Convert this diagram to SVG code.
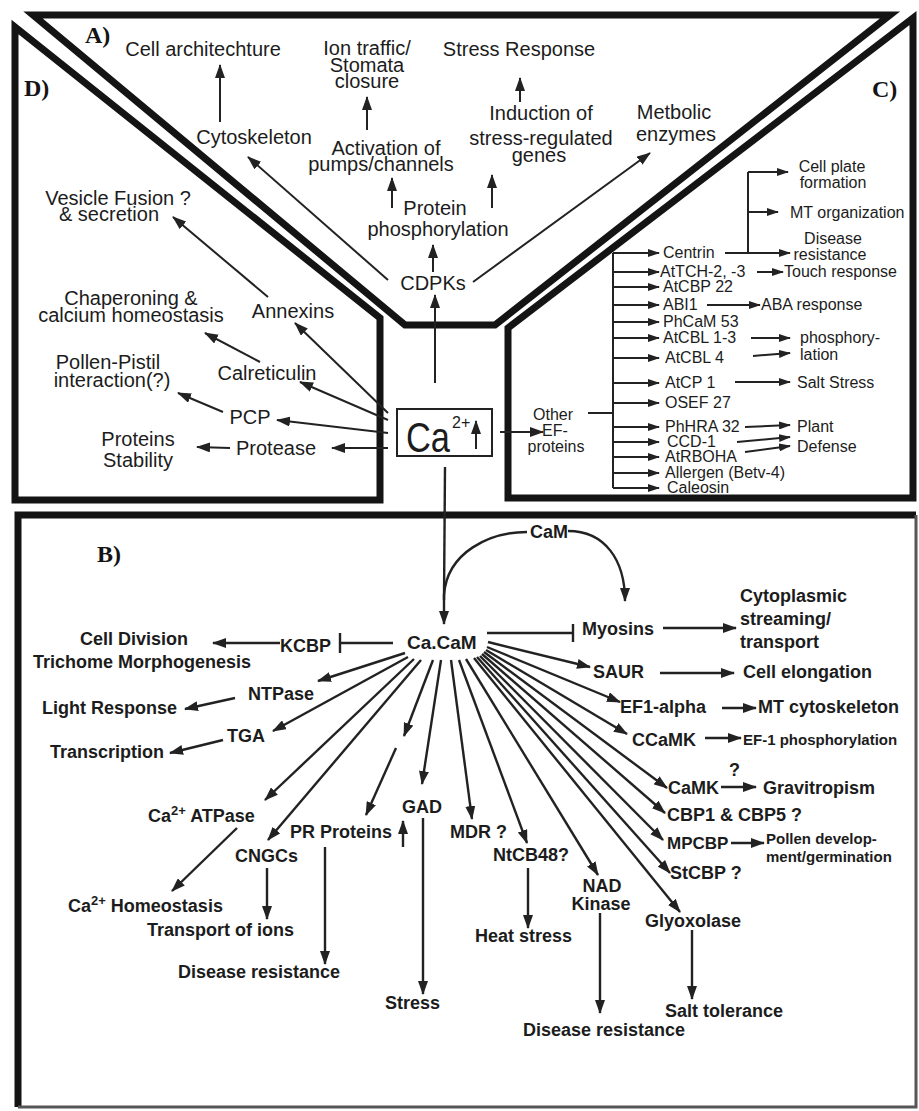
<svg xmlns="http://www.w3.org/2000/svg" width="919" height="1111" viewBox="0 0 919 1111">
<style>
.pan{fill:none;stroke:#141414;stroke-width:7;stroke-linejoin:miter}
.t{font-family:"Liberation Sans",Arial,sans-serif;font-size:20px;fill:#1c1c1c}
.c{font-family:"Liberation Sans",Arial,sans-serif;font-size:16px;fill:#1c1c1c}
.b{font-family:"Liberation Sans",Arial,sans-serif;font-size:18px;font-weight:bold;fill:#1c1c1c}
.bs{font-family:"Liberation Sans",Arial,sans-serif;font-size:15px;font-weight:bold;fill:#1c1c1c}
.lab{font-family:"Liberation Serif","Times New Roman",serif;font-size:24px;font-weight:bold;fill:#141414}
.m{text-anchor:middle}
.ln{fill:none;stroke:#222;stroke-width:2}
.lb{fill:none;stroke:#222;stroke-width:2.4}
.a{marker-end:url(#ah)}
.as{marker-end:url(#ahs)}
</style>
<defs>
<marker id="ah" viewBox="0 0 14 10" refX="13" refY="5" markerWidth="14" markerHeight="10" markerUnits="userSpaceOnUse" orient="auto"><path d="M0,0 L14,5 L0,10 z" fill="#222"/></marker>
<marker id="ahs" viewBox="0 0 12 8" refX="11" refY="4" markerWidth="12" markerHeight="8" markerUnits="userSpaceOnUse" orient="auto"><path d="M0,0 L12,4 L0,8 z" fill="#222"/></marker>
</defs>
<rect width="919" height="1111" fill="#ffffff"/>
<g id="panels">
<polygon class="pan" points="33,15 890,15 495,325 405,325"/>
<polygon class="pan" points="15,27 380,318 380,500 15,500"/>
<polygon class="pan" points="913,18 913,498 508,498 508,328"/>
<path class="pan" d="M18,1107 L18,515 L916,515" stroke-width="6"/>
<path d="M916,515 L916,1107 L18,1107" fill="none" stroke="#555" stroke-width="3"/>
</g>
<g id="panel-labels">
<text class="lab" x="85" y="43">A)</text>
<text class="lab" x="24" y="96">D)</text>
<text class="lab" x="872" y="97">C)</text>
<text class="lab" x="97" y="562">B)</text>
</g>
<g id="connectors">
<!-- panel A -->
<line class="ln a" x1="220" y1="122" x2="220" y2="65"/>
<line class="ln a" x1="367" y1="130" x2="367" y2="97"/>
<line class="ln a" x1="392" y1="208" x2="392" y2="178"/>
<line class="ln a" x1="492" y1="208" x2="492" y2="175"/>
<line class="ln a" x1="520" y1="102" x2="520" y2="78"/>
<line class="ln a" x1="433" y1="272" x2="433" y2="245"/>
<line class="ln a" x1="435" y1="383" x2="435" y2="295"/>
<line class="ln a" x1="388" y1="280" x2="248" y2="157"/>
<line class="ln a" x1="473" y1="282" x2="650" y2="153"/>
<!-- panel D -->
<line class="ln a" x1="268" y1="297" x2="173" y2="217"/>
<line class="ln a" x1="388" y1="413" x2="295" y2="323"/>
<line class="ln a" x1="260" y1="362" x2="205" y2="333"/>
<line class="ln a" x1="388" y1="420" x2="300" y2="382"/>
<line class="ln a" x1="223" y1="412" x2="178" y2="393"/>
<line class="ln a" x1="388" y1="433" x2="277" y2="420"/>
<line class="ln a" x1="230" y1="448" x2="197" y2="447"/>
<line class="ln a" x1="388" y1="448" x2="332" y2="448"/>
<!-- panel C -->
<line class="ln a" x1="500" y1="432" x2="543" y2="432"/>
<line class="ln" x1="588" y1="413" x2="613" y2="413"/>
<line class="ln" x1="613" y1="253" x2="613" y2="488"/>
<line class="ln as" x1="613" y1="253" x2="659" y2="253"/>
<line class="ln as" x1="613" y1="272" x2="659" y2="272"/>
<line class="ln as" x1="613" y1="287" x2="659" y2="287"/>
<line class="ln as" x1="613" y1="305" x2="659" y2="305"/>
<line class="ln as" x1="613" y1="322" x2="659" y2="322"/>
<line class="ln as" x1="613" y1="338" x2="659" y2="338"/>
<line class="ln as" x1="613" y1="358" x2="659" y2="358"/>
<line class="ln as" x1="613" y1="383" x2="659" y2="383"/>
<line class="ln as" x1="613" y1="403" x2="659" y2="403"/>
<line class="ln as" x1="613" y1="427" x2="659" y2="427"/>
<line class="ln as" x1="613" y1="442" x2="659" y2="442"/>
<line class="ln as" x1="613" y1="457" x2="659" y2="457"/>
<line class="ln as" x1="613" y1="473" x2="659" y2="473"/>
<line class="ln as" x1="613" y1="488" x2="659" y2="488"/>
<line class="ln as" x1="725" y1="253" x2="790" y2="253"/>
<line class="ln" x1="748" y1="172" x2="748" y2="253"/>
<line class="ln as" x1="748" y1="172" x2="788" y2="172"/>
<line class="ln as" x1="748" y1="212" x2="778" y2="212"/>
<line class="ln as" x1="757" y1="272" x2="783" y2="272"/>
<line class="ln as" x1="707" y1="305" x2="760" y2="305"/>
<line class="ln as" x1="751" y1="338" x2="790" y2="338"/>
<line class="ln as" x1="753" y1="356" x2="790" y2="353"/>
<line class="ln as" x1="735" y1="382" x2="790" y2="382"/>
<line class="ln as" x1="745" y1="427" x2="790" y2="425"/>
<line class="ln as" x1="737" y1="442" x2="790" y2="437"/>
<line class="ln as" x1="745" y1="452" x2="790" y2="446"/>
<!-- panel B -->
<line class="lb" x1="445" y1="467" x2="444" y2="600"/>
<path class="lb a" d="M527,532 C490,532 447,552 444,595 L444,624"/>
<path class="lb a" d="M568,531 C605,531 625,560 625,601"/>
<line class="lb" x1="487" y1="633" x2="573" y2="633"/>
<line class="lb" x1="573" y1="624" x2="573" y2="642"/>
<line class="lb" x1="393" y1="643" x2="340" y2="643"/>
<line class="lb" x1="340" y1="633" x2="340" y2="653"/>
<line class="lb a" x1="280" y1="643" x2="213" y2="643"/>
<line class="lb a" x1="488" y1="642" x2="590" y2="667"/>
<line class="lb a" x1="487" y1="647" x2="620" y2="702"/>
<line class="lb a" x1="486" y1="650" x2="627" y2="734"/>
<line class="lb a" x1="484" y1="652" x2="667" y2="788"/>
<line class="lb a" x1="482" y1="654" x2="665" y2="813"/>
<line class="lb a" x1="480" y1="656" x2="663" y2="840"/>
<line class="lb a" x1="477" y1="657" x2="670" y2="873"/>
<line class="lb a" x1="474" y1="658" x2="680" y2="912"/>
<line class="lb a" x1="466" y1="659" x2="598" y2="875"/>
<line class="lb a" x1="459" y1="660" x2="527" y2="843"/>
<line class="lb a" x1="451" y1="660" x2="472" y2="819"/>
<line class="lb a" x1="441" y1="660" x2="422" y2="784"/>
<line class="lb a" x1="433" y1="660" x2="404" y2="736"/>
<line class="lb a" x1="396" y1="748" x2="366" y2="815"/>
<line class="lb a" x1="421" y1="660" x2="268" y2="840"/>
<line class="lb a" x1="414" y1="659" x2="265" y2="800"/>
<line class="lb a" x1="408" y1="657" x2="273" y2="731"/>
<line class="lb a" x1="405" y1="653" x2="318" y2="681"/>
<line class="lb a" x1="235" y1="698" x2="185" y2="709"/>
<line class="lb a" x1="223" y1="740" x2="170" y2="753"/>
<line class="lb a" x1="237" y1="828" x2="172" y2="891"/>
<line class="lb a" x1="267" y1="868" x2="267" y2="919"/>
<line class="lb a" x1="325" y1="847" x2="325" y2="964"/>
<line class="lb a" x1="403" y1="847" x2="403" y2="821"/>
<line class="lb a" x1="423" y1="818" x2="423" y2="994"/>
<line class="lb a" x1="528" y1="868" x2="528" y2="928"/>
<line class="lb a" x1="600" y1="913" x2="600" y2="1013"/>
<line class="lb a" x1="692" y1="930" x2="692" y2="999"/>
<line class="lb a" x1="663" y1="628" x2="736" y2="628"/>
<line class="lb a" x1="660" y1="673" x2="734" y2="673"/>
<line class="lb a" x1="722" y1="708" x2="756" y2="708"/>
<line class="lb a" x1="705" y1="738" x2="741" y2="738"/>
<line class="lb a" x1="721" y1="787" x2="756" y2="787"/>
<line class="lb a" x1="731" y1="843" x2="764" y2="843"/>
</g>
<g id="ca-box">
<rect x="397" y="409" width="95" height="47" fill="#fff" stroke="#222" stroke-width="2"/>
<text class="t" x="406" y="452" textLength="44" lengthAdjust="spacingAndGlyphs" style="font-size:42px">Ca</text>
<text class="t" x="452" y="428" style="font-size:16px">2+</text>
<line class="ln a" x1="476" y1="449" x2="476" y2="421"/>
</g>
<!-- Panel A nodes -->
<g id="cell-architecture"><text class="t m" x="203" y="56">Cell architechture</text></g>
<g id="ion-traffic"><text class="t m" x="367" y="55">Ion traffic/</text><text class="t m" x="367" y="72">Stomata</text><text class="t m" x="367" y="88">closure</text></g>
<g id="stress-response"><text class="t m" x="519" y="56">Stress Response</text></g>
<g id="cytoskeleton"><text class="t m" x="254" y="144">Cytoskeleton</text></g>
<g id="activation"><text class="t m" x="386" y="155">Activation of</text><text class="t m" x="381" y="171">pumps/channels</text></g>
<g id="induction"><text class="t m" x="541" y="120">Induction of</text><text class="t m" x="541" y="145">stress-regulated</text><text class="t m" x="539" y="162">genes</text></g>
<g id="metabolic"><text class="t m" x="674" y="119">Metbolic</text><text class="t m" x="676" y="141">enzymes</text></g>
<g id="protein-phos"><text class="t m" x="435" y="215">Protein</text><text class="t m" x="438" y="236">phosphorylation</text></g>
<g id="cdpks"><text class="t m" x="433" y="290">CDPKs</text></g>
<!-- Panel D nodes -->
<g id="vesicle"><text class="t m" x="118" y="205">Vesicle Fusion ?</text><text class="t m" x="109" y="221">&amp; secretion</text></g>
<g id="annexins"><text class="t m" x="293" y="318">Annexins</text></g>
<g id="chaperoning"><text class="t m" x="131" y="305">Chaperoning &amp;</text><text class="t m" x="131" y="322">calcium homeostasis</text></g>
<g id="calreticulin"><text class="t m" x="267" y="380">Calreticulin</text></g>
<g id="pollen-pistil"><text class="t m" x="108" y="369">Pollen-Pistil</text><text class="t m" x="112" y="387">interaction(?)</text></g>
<g id="pcp"><text class="t m" x="250" y="424">PCP</text></g>
<g id="proteins-stability"><text class="t m" x="138" y="446">Proteins</text><text class="t m" x="138" y="467">Stability</text></g>
<g id="protease"><text class="t m" x="276" y="455">Protease</text></g>
<!-- Panel C nodes -->
<g id="other-ef"><text class="c m" x="553" y="420">Other</text><text class="c m" x="555" y="436">EF-</text><text class="c m" x="556" y="452">proteins</text></g>
<g id="centrin"><text class="c" x="663" y="258">Centrin</text></g>
<g id="attch"><text class="c" x="660" y="277">AtTCH-2, -3</text></g>
<g id="atcbp22"><text class="c" x="663" y="292">AtCBP 22</text></g>
<g id="abi1"><text class="c" x="663" y="310">ABI1</text></g>
<g id="phcam53"><text class="c" x="663" y="327">PhCaM 53</text></g>
<g id="atcbl13"><text class="c" x="663" y="343">AtCBL 1-3</text></g>
<g id="atcbl4"><text class="c" x="665" y="363">AtCBL 4</text></g>
<g id="atcp1"><text class="c" x="665" y="388">AtCP 1</text></g>
<g id="osef27"><text class="c" x="665" y="408">OSEF 27</text></g>
<g id="phhra32"><text class="c" x="665" y="432">PhHRA 32</text></g>
<g id="ccd1"><text class="c" x="667" y="447">CCD-1</text></g>
<g id="atrboha"><text class="c" x="665" y="462">AtRBOHA</text></g>
<g id="allergen"><text class="c" x="665" y="478">Allergen (Betv-4)</text></g>
<g id="caleosin"><text class="c" x="667" y="493">Caleosin</text></g>
<g id="cell-plate"><text class="c m" x="832" y="172">Cell plate</text><text class="c m" x="833" y="188">formation</text></g>
<g id="mt-org"><text class="c" x="790" y="218">MT organization</text></g>
<g id="disease-c"><text class="c m" x="833" y="244">Disease</text><text class="c m" x="830" y="260">resistance</text></g>
<g id="touch"><text class="c" x="784" y="277">Touch response</text></g>
<g id="aba"><text class="c" x="761" y="310">ABA response</text></g>
<g id="phosphorylation-c"><text class="c" x="800" y="343">phosphory-</text><text class="c" x="800" y="360">lation</text></g>
<g id="salt-stress"><text class="c" x="797" y="388">Salt Stress</text></g>
<g id="plant-defense"><text class="c" x="797" y="432">Plant</text><text class="c" x="797" y="452">Defense</text></g>
<!-- Panel B nodes -->
<g id="cam"><text class="b" x="530" y="538">CaM</text></g>
<g id="cacam"><text class="b" x="407" y="649" style="font-size:19px">Ca.CaM</text></g>
<g id="kcbp"><text class="b" x="280" y="652">KCBP</text></g>
<g id="cell-division"><text class="b" x="80" y="645">Cell Division</text><text class="b" x="33" y="668">Trichome Morphogenesis</text></g>
<g id="ntpase"><text class="b" x="248" y="700">NTPase</text></g>
<g id="light-response"><text class="b" x="42" y="714">Light Response</text></g>
<g id="tga"><text class="b" x="227" y="742">TGA</text></g>
<g id="transcription"><text class="b" x="50" y="758">Transcription</text></g>
<g id="ca-atpase"><text class="b" x="148" y="822">Ca<tspan dy="-7" style="font-size:13px">2+</tspan><tspan dy="7"> ATPase</tspan></text></g>
<g id="cngcs"><text class="b" x="235" y="862">CNGCs</text></g>
<g id="ca-homeostasis"><text class="b" x="68" y="912">Ca<tspan dy="-7" style="font-size:13px">2+</tspan><tspan dy="7"> Homeostasis</tspan></text></g>
<g id="transport-ions"><text class="b" x="147" y="936">Transport of ions</text></g>
<g id="pr-proteins"><text class="b" x="290" y="838">PR Proteins</text></g>
<g id="disease-b1"><text class="b" x="178" y="978">Disease resistance</text></g>
<g id="gad"><text class="b" x="402" y="813">GAD</text></g>
<g id="stress"><text class="b" x="385" y="1009">Stress</text></g>
<g id="mdr"><text class="b" x="450" y="838">MDR ?</text></g>
<g id="ntcb48"><text class="b" x="493" y="861">NtCB48?</text></g>
<g id="heat-stress"><text class="b" x="475" y="942">Heat stress</text></g>
<g id="nad-kinase"><text class="b m" x="602" y="892">NAD</text><text class="b m" x="601" y="910">Kinase</text></g>
<g id="disease-b2"><text class="b" x="523" y="1036">Disease resistance</text></g>
<g id="glyoxolase"><text class="b" x="645" y="927">Glyoxolase</text></g>
<g id="salt-tolerance"><text class="b" x="665" y="1017">Salt tolerance</text></g>
<g id="stcbp"><text class="b" x="670" y="879">StCBP ?</text></g>
<g id="mpcbp"><text class="b" x="667" y="849" style="font-size:17px">MPCBP</text></g>
<g id="pollen-dev"><text class="bs" x="766" y="844">Pollen develop-</text><text class="bs" x="766" y="862">ment/germination</text></g>
<g id="cbp15"><text class="b" x="667" y="821">CBP1 &amp; CBP5 ?</text></g>
<g id="camk"><text class="b" x="668" y="794">CaMK</text><text class="b" x="729" y="776">?</text></g>
<g id="gravitropism"><text class="b" x="763" y="794">Gravitropism</text></g>
<g id="ccamk"><text class="b" x="632" y="746">CCaMK</text></g>
<g id="ef1-phos"><text class="bs" x="743" y="745">EF-1 phosphorylation</text></g>
<g id="ef1-alpha"><text class="b" x="620" y="713">EF1-alpha</text></g>
<g id="mt-cyto"><text class="b" x="758" y="713">MT cytoskeleton</text></g>
<g id="saur"><text class="b" x="593" y="678">SAUR</text></g>
<g id="cell-elongation"><text class="b" x="743" y="678">Cell elongation</text></g>
<g id="myosins"><text class="b" x="582" y="635">Myosins</text></g>
<g id="cytoplasmic"><text class="b" x="740" y="602">Cytoplasmic</text><text class="b" x="740" y="625">streaming/</text><text class="b" x="740" y="648">transport</text></g>
</svg>
